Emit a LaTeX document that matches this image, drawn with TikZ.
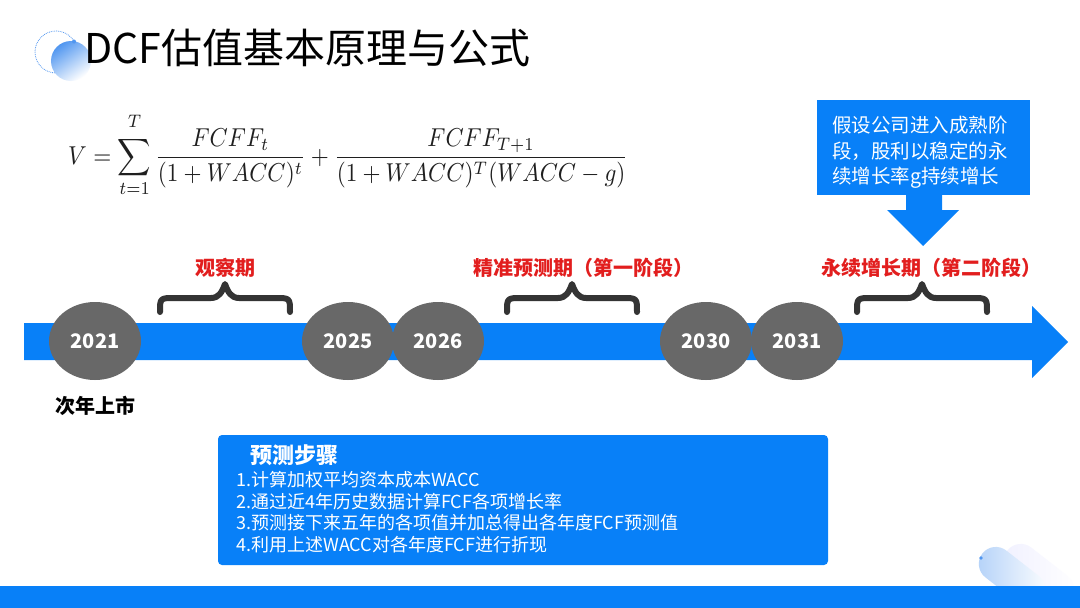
\documentclass[tikz,border=0pt]{standalone}
\usepackage[no-math]{fontspec}
\setmainfont{Noto Sans CJK SC}
\usetikzlibrary{shapes.geometric}
\definecolor{tblue}{RGB}{8,128,248}
\definecolor{cgray}{RGB}{104,104,104}
\definecolor{tred}{RGB}{226,30,30}
\definecolor{bdark}{RGB}{52,52,52}
\definecolor{lblue}{RGB}{80,150,240}
\begin{document}
\begin{tikzpicture}[x=1pt,y=-1pt,
  yearnode/.style={ellipse, fill=cgray, minimum width=92pt, minimum height=78pt, inner sep=0pt, text=white, font=\bfseries\fontsize{20}{24}\selectfont},
  redlabel/.style={anchor=base, text=tred, font=\bfseries\fontsize{20}{24}\selectfont, inner sep=0pt},
  bracestroke/.style={draw=bdark, line width=6pt, line cap=round, line join=round},
  steptext/.style={anchor=base west, text=white, font=\fontsize{18}{22}\selectfont, inner sep=0pt},
  callline/.style={anchor=base west, text=white, font=\fontsize{19.5}{24}\selectfont, inner sep=0pt},
  curlyb/.pic={
    \draw[bracestroke] (-65,14) .. controls (-65,0) .. (-50,0) -- (-14,0)
      .. controls (-6,0) and (-3,-6) .. (0,-14)
      .. controls (3,-6) and (6,0) .. (14,0) -- (50,0)
      .. controls (65,0) .. (65,14);
  }]
\useasboundingbox (0,0) rectangle (1080,608);
\fill[white] (0,0) rectangle (1080,608);

% logo
\draw[lblue, densely dotted, line width=0.8pt] (56,52) circle (21);
\shade[top color=lblue, bottom color=white, shading angle=35] (71,61) circle (20);
\fill[lblue] (74,41.5) circle (2);

% title
\node[anchor=base west, inner sep=0pt, font=\fontsize{41}{46}\selectfont] (title) at (84,63) {DCF估值基本原理与公式};

% formula
\node[anchor=west, inner sep=0pt, text={black!88}] (formula) at (68,155)
  {\resizebox*{560pt}{84pt}{$\displaystyle V=\sum_{t=1}^{\raisebox{1.5pt}{$\scriptstyle T$}}\frac{FCFF_t}{(1+WACC)^t}+\frac{FCFF_{T+1}}{(1+WACC)^T(WACC-g)}$}};

% callout
\node[fill=tblue, minimum width=213pt, minimum height=95pt, inner sep=0pt] (callout) at (923.5,147.5) {};
\fill[tblue] (906,195) -- (906,210) -- (887,210) -- (923,246) -- (959,210) -- (942,210) -- (942,195) -- cycle;
\node[callline] (cl1) at (832,132) {假设公司进入成熟阶};
\node[callline] (cl2) at (832,158) {段，股利以稳定的永};
\node[callline] (cl3) at (832,183) {续增长率g持续增长};

% labels
\node[redlabel] (lab1) at (225,275) {观察期};
\node[redlabel] (lab2) at (583,275) {精准预测期（第一阶段）};
\node[redlabel] (lab3) at (931,275) {永续增长期（第二阶段）};

% braces
\pic (br1) at (225,298) {curlyb};
\pic (br2) at (572,298) {curlyb};
\pic (br3) at (922,298) {curlyb};

% timeline
\fill[tblue] (24,323) -- (1032,323) -- (1032,306) -- (1068,342) -- (1032,378) -- (1032,360) -- (24,360) -- cycle;

\node[yearnode] (y2021) at (95,341) {2021};
\node[yearnode] (y2025) at (348,341) {2025};
\node[yearnode] (y2026) at (438,341) {2026};
\node[yearnode] (y2030) at (706,341) {2030};
\node[yearnode] (y2031) at (797,341) {2031};

\node[anchor=base, inner sep=0pt, font=\bfseries\fontsize{20}{24}\selectfont] (ipo) at (95,413) {次年上市};

% steps box
\node[fill=tblue, rounded corners=4pt, minimum width=610pt, minimum height=130pt, inner sep=0pt] (steps) at (523,500) {};
\node[anchor=base west, inner sep=0pt, text=white, font=\bfseries\fontsize{22}{26}\selectfont] (stitle) at (250,463) {预测步骤};
\node[steptext] (s1) at (236,486.5) {1.计算加权平均资本成本WACC};
\node[steptext] (s2) at (236,508.5) {2.通过近4年历史数据计算FCF各项增长率};
\node[steptext] (s3) at (236,529.5) {3.预测接下来五年的各项值并加总得出各年度FCF预测值};
\node[steptext] (s4) at (236,551.5) {4.利用上述WACC对各年度FCF进行折现};

% bottom-right decoration
\shade[rotate around={-38:(1035,572)}, rounded corners=17pt, left color=blue!6, right color=white] (1000,555) rectangle (1080,590);
\shade[rotate around={-38:(1010,575)}, rounded corners=17pt, left color=lblue!45, right color=white] (975,558) rectangle (1050,592);
\fill[lblue] (981,558) circle (1.8);

% bottom bar
\fill[tblue] (0,586) rectangle (1080,608);
\end{tikzpicture}
\end{document}
